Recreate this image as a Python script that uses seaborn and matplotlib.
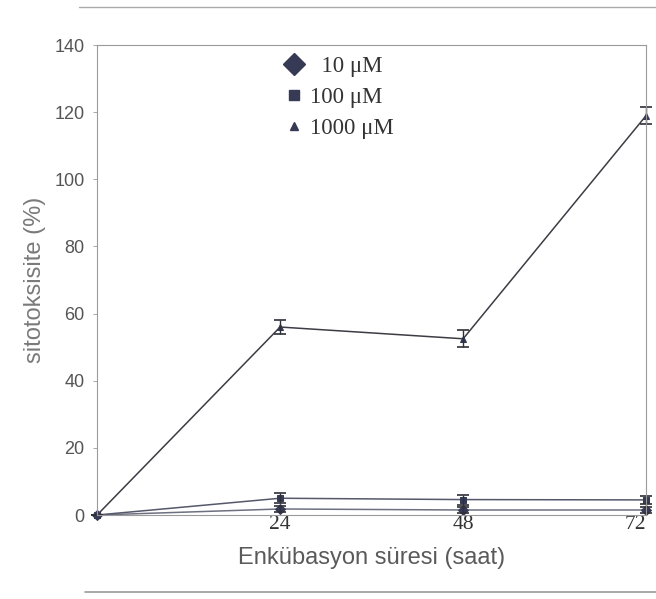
import pandas as pd
import matplotlib
matplotlib.use("Agg")
import matplotlib.pyplot as plt
from matplotlib.lines import Line2D
import seaborn as sns

# Données
saat = [0, 24, 48, 72]
doz_10 = [0, 1.8, 1.5, 1.5]
doz_100 = [0, 5.0, 4.6, 4.5]
doz_1000 = [0, 56, 52.5, 119]
err_10 = [0, 1.0, 1.0, 1.0]
err_100 = [0, 1.5, 1.5, 1.2]
err_1000 = [0, 2.2, 2.5, 2.5]
etiketler = ["10 μM", "100 μM", "1000 μM"]

df = pd.DataFrame({
    "saat": saat * 3,
    "deger": doz_10 + doz_100 + doz_1000,
    "hata": err_10 + err_100 + err_1000,
    "doz": [etiketler[0]] * 4 + [etiketler[1]] * 4 + [etiketler[2]] * 4,
})

sns.set_style("white")
plt.rcParams["font.family"] = ["Liberation Sans", "DejaVu Sans"]

fig = plt.figure(figsize=(6.56, 5.99), dpi=100)
ax = fig.add_axes([0.148, 0.1402, 0.837, 0.7846])

marker_renk = "#363a55"
cizgi_renk = {etiketler[0]: "#6d7080", etiketler[1]: "#55586a", etiketler[2]: "#3c3c44"}
markers = {etiketler[0]: "D", etiketler[1]: "s", etiketler[2]: "^"}

sns.lineplot(data=df, x="saat", y="deger", hue="doz", style="doz",
             markers=markers, dashes=False, palette=cizgi_renk,
             linewidth=1.1, markersize=5, markeredgecolor=marker_renk,
             legend=False, ax=ax, clip_on=False)
for line in ax.get_lines():
    line.set_markerfacecolor(marker_renk)

for ad, g in df.groupby("doz"):
    ax.errorbar(g["saat"], g["deger"], yerr=g["hata"], fmt="none",
                ecolor="#2f3038", elinewidth=1.0, capsize=4, capthick=1.2,
                clip_on=False)

ax.set_xlim(0, 72)
ax.set_ylim(0, 140)
ax.set_yticks(range(0, 141, 20))
ax.set_xticks([24, 48, 72])
ax.set_xticklabels(["24", "48", "72"], family=["Liberation Serif"], fontsize=15.5,
                   color="#333333")
ax.get_xticklabels()[-1].set_horizontalalignment("right")
ax.tick_params(axis="x", length=0, pad=0)
ax.tick_params(axis="y", length=3, width=0.6, color="#999999", labelsize=13,
               labelcolor="#555555", pad=6, left=True, direction="out")
for s in ax.spines.values():
    s.set_color("#9a9a9a")
    s.set_linewidth(0.8)

ax.set_xlabel("Enkübasyon süresi (saat)", fontsize=17, color="#5a5a5a", labelpad=9)
ax.set_ylabel("sitotoksisite (%)", fontsize=17, color="#7a7a7a", labelpad=6)

# Lejant
handles = [
    Line2D([], [], marker="D", color="none", markerfacecolor=marker_renk,
           markeredgecolor=marker_renk, markersize=11),
    Line2D([], [], marker="s", color="none", markerfacecolor=marker_renk,
           markeredgecolor=marker_renk, markersize=7),
    Line2D([], [], marker="^", color="none", markerfacecolor=marker_renk,
           markeredgecolor=marker_renk, markersize=6),
]
ax.legend(handles, ["  " + etiketler[0], etiketler[1], etiketler[2]],
          loc="upper left", bbox_to_anchor=(0.305, 1.02), frameon=False,
          prop={"family": "Liberation Serif", "size": 16.5},
          handlelength=0.8, handletextpad=0.3, labelspacing=0.42,
          labelcolor="#333333")

# Tarama kenar çizgileri
fig.add_artist(Line2D([0.12, 1.0], [0.988, 0.988], color="#aaaaaa", lw=1.0))
fig.add_artist(Line2D([0.13, 1.0], [0.012, 0.012], color="#999999", lw=1.2))

plt.savefig("out.png", dpi=100)
